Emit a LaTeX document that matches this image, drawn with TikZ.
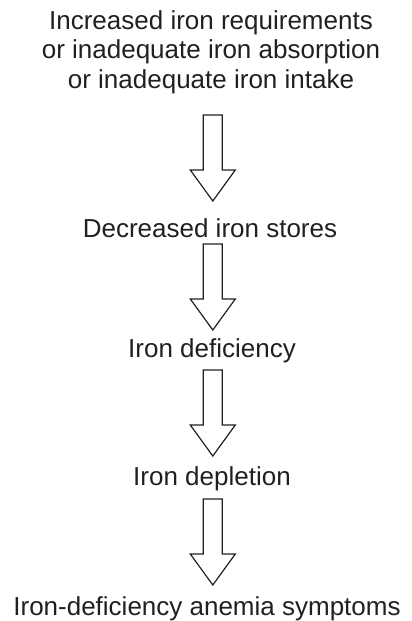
\documentclass[tikz,border=0pt]{standalone}
\usepackage{fontspec}
\setmainfont{Liberation Sans}
\definecolor{ink}{HTML}{231F20}
\begin{document}
\begin{tikzpicture}[x=1pt,y=-1pt,
  lbl/.style={anchor=base,inner sep=0pt,text=ink,font=\fontsize{26}{29.3}\selectfont},
  blockarrow/.style={draw=ink,line width=1.2pt,line join=miter,fill=white}]
\useasboundingbox (0,0) rectangle (412,621);
\node[lbl] (l1) at (211,29.3) {Increased iron requirements};
\node[lbl] (l2) at (211,58.6) {or inadequate iron absorption};
\node[lbl] (l3) at (211,88) {or inadequate iron intake};
\node[lbl] (s2) at (210,237) {Decreased iron stores};
\node[lbl] (s3) at (212,357) {Iron deficiency};
\node[lbl] (s4) at (212,485) {Iron depletion};
\node[lbl] (s5) at (207,615) {Iron-deficiency anemia symptoms};
\coordinate (a1) at (212.8,115);
\coordinate (a2) at (212.8,244);
\coordinate (a3) at (212.8,370);
\coordinate (a4) at (212.8,499);
\foreach \a in {a1,a2,a3,a4}{
  \draw[blockarrow] (\a) ++(-9.5,0) -- ++(19,0) -- ++(0,55) -- ++(13,0)
     -- ++(-22.5,31) -- ++(-22.5,-31) -- ++(13,0) -- cycle;
}
\end{tikzpicture}
\end{document}
